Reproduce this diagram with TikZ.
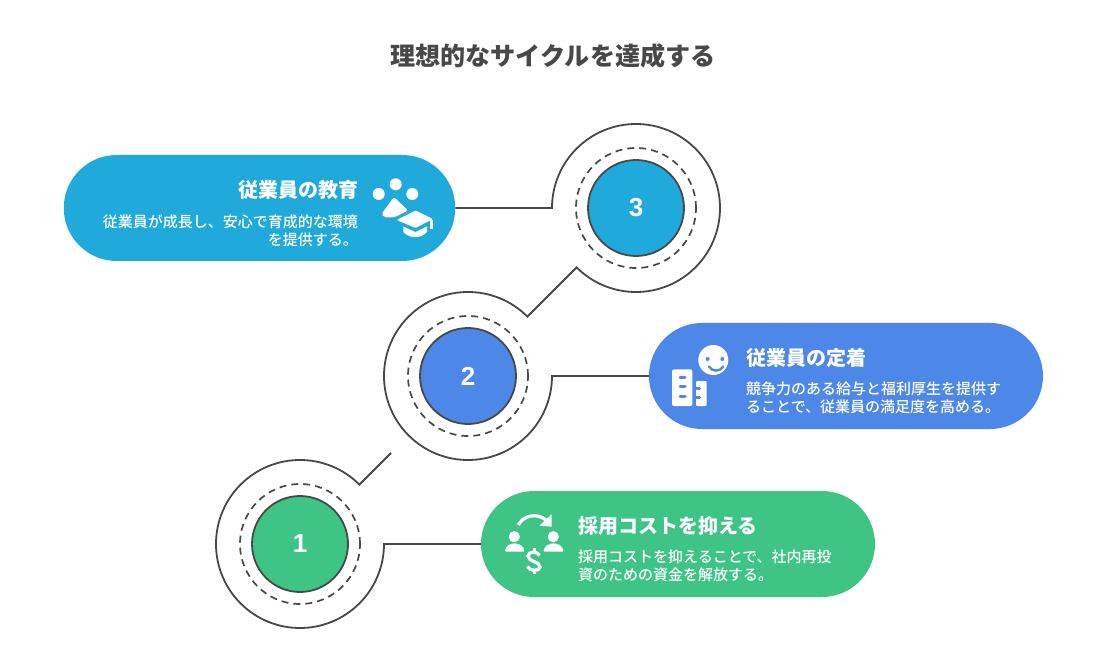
\documentclass[tikz,border=0pt]{standalone}
\usepackage{fontspec}
\setmainfont{Noto Sans CJK JP}
\newfontfamily\medfont{Noto Sans CJK JP Medium}
\newfontfamily\numfont{Liberation Sans}
\usetikzlibrary{positioning}
\definecolor{edublue}{HTML}{1FAADB}
\definecolor{retblue}{HTML}{4D87E8}
\definecolor{costgreen}{HTML}{3EC585}
\definecolor{inkgray}{HTML}{484848}
\tikzset{
  ring/.style={circle,minimum size=168pt,inner sep=0pt,outer sep=0pt},
  dashring/.style={circle,minimum size=120pt,inner sep=0pt,draw=inkgray,line width=1.7pt,dash pattern=on 7pt off 5pt},
  core/.style={circle,minimum size=96pt,inner sep=0pt,draw=inkgray,line width=1.8pt,text=white,font=\numfont\bfseries\fontsize{26}{26}\selectfont},
  pill/.style={rectangle,rounded corners=53pt,minimum width=394pt,minimum height=106pt,inner sep=0pt,outer sep=0pt},
  link/.style={draw=inkgray,line width=1.8pt,line join=miter},
  headtext/.style={text=white,inner sep=0pt,font=\bfseries\fontsize{20}{20}\selectfont},
  bodytext/.style={text=white,inner sep=0pt,font=\medfont\fontsize{15}{18}\selectfont},
  icon/.style={fill=white,draw=none}
}
\begin{document}
\begin{tikzpicture}[x=1pt,y=-1pt]
  \useasboundingbox (0,0) rectangle (1104,655);

  \node[text=inkgray,inner sep=0pt,font=\bfseries\fontsize{25.1}{25}\selectfont] (title) at (553,56) {理想的なサイクルを達成する};

  % pills
  \node[pill,fill=edublue,minimum width=391.5pt] (edu) at (259.5,208) {};
  \node[pill,fill=retblue] (reten) at (846,376) {};
  \node[pill,fill=costgreen] (cost) at (678,544) {};

  % circles
  \foreach \n/\x/\y/\c/\t in {3/636/208/edublue/3,2/468/376/retblue/2,1/300/544/costgreen/1}{
    \node[ring] (ring\n) at (\x,\y) {};
    \node[dashring] (dash\n) at (\x,\y) {};
    \node[core,fill=\c] (core\n) at (\x,\y) {\t};
  }

  % connectors
  \coordinate (gap) at (391,453);
  \draw[link] (edu.east) -- (ring3.west) arc[start angle=180,end angle=-135,radius=84pt]
    -- (ring2.45) arc[start angle=45,end angle=360,radius=84pt] -- (reten.west);
  \draw[link] (gap) -- (ring1.45) arc[start angle=45,end angle=360,radius=84pt] -- (cost.west);

  % texts
  \node[headtext,anchor=east] (eduhead) at (359,190) {従業員の教育};
  \node[bodytext,anchor=north east,align=right] (edubody) at (358,214) {従業員が成長し、安心で育成的な環境\\を提供する。};
  \node[headtext,anchor=west] (rethead) at (746,358) {従業員の定着};
  \node[bodytext,anchor=north west,align=left] (retbody) at (746,382) {競争力のある給与と福利厚生を提供す\\ることで、従業員の満足度を高める。};
  \node[headtext,anchor=west] (costhead) at (578,526) {採用コストを抑える};
  \node[bodytext,anchor=north west,align=left] (costbody) at (578,550) {採用コストを抑えることで、社内再投\\資のための資金を解放する。};

  % icon: education
  \fill[icon] (378.7,194) circle[radius=6pt] (395.7,184.3) circle[radius=6pt] (412.3,194) circle[radius=6pt];
  \fill[icon,rounded corners=2pt] (394,197) -- (381.5,214) -- (384,217.3) -- (394.5,217.3) -- (408,210.5) -- cycle;
  \fill[icon,rounded corners=1pt] (396.7,220) -- (415.5,210.5) -- (433,219) -- (415.5,228) -- cycle;
  \fill[icon] (403.3,226.5) -- (415.5,232) -- (427,226.5) -- (427,232) .. controls (420,239) and (410,239) .. (403.3,232) -- cycle;
  \fill[icon] (430,220) rectangle (432.7,229);

  % icon: retention
  \fill[icon] (713.3,360) circle[radius=15pt];
  \fill[retblue] (707.7,359) circle[radius=2pt] (722.3,359) circle[radius=2pt];
  \draw[retblue,line width=2.4pt,line cap=round] (709,366.5) .. controls (712,372) and (720,372) .. (723.3,366.5);
  \fill[icon,rounded corners=2pt] (672,406) -- (672,369.3) -- (692.3,369.3) -- (692.3,406) -- cycle;
  \fill[icon,rounded corners=1pt] (696,406) -- (696,381) -- (706.7,381) -- (706.7,406) -- cycle;
  \foreach \y in {377.5,386.7,396}{
    \draw[retblue,line width=3pt,line cap=round] (680,\y) -- (685,\y);
  }
  \foreach \y in {388.3,397}{
    \draw[retblue,line width=3pt,line cap=round] (695,\y) -- (699.5,\y);
  }

  % icon: cost
  \draw[white,line width=3.2pt] (518.3,525) .. controls (523,516) and (536,512) .. (546,520);
  \fill[icon] (551.7,514.3) -- (551.7,526.7) -- (539.3,525.7) -- cycle;
  \fill[icon] (514.3,536.7) circle[radius=5.6pt] (553.3,536.7) circle[radius=5.6pt];
  \fill[icon,rounded corners=1pt] (505,551.7) .. controls (506,541) and (523,541) .. (524.5,551.7) -- cycle;
  \fill[icon,rounded corners=1pt] (543.5,551.7) .. controls (545,541) and (562,541) .. (563.5,551.7) -- cycle;
  \draw[white,line width=3.2pt] (539.5,555.5) .. controls (538,551) and (528,551) .. (528,556) .. controls (528,562) and (540,561) .. (540,567) .. controls (540,571.5) and (529,571.5) .. (527.5,566.5);
  \draw[white,line width=3pt] (534,547.5) -- (534,552) (534,570) -- (534,574);
\end{tikzpicture}
\end{document}
